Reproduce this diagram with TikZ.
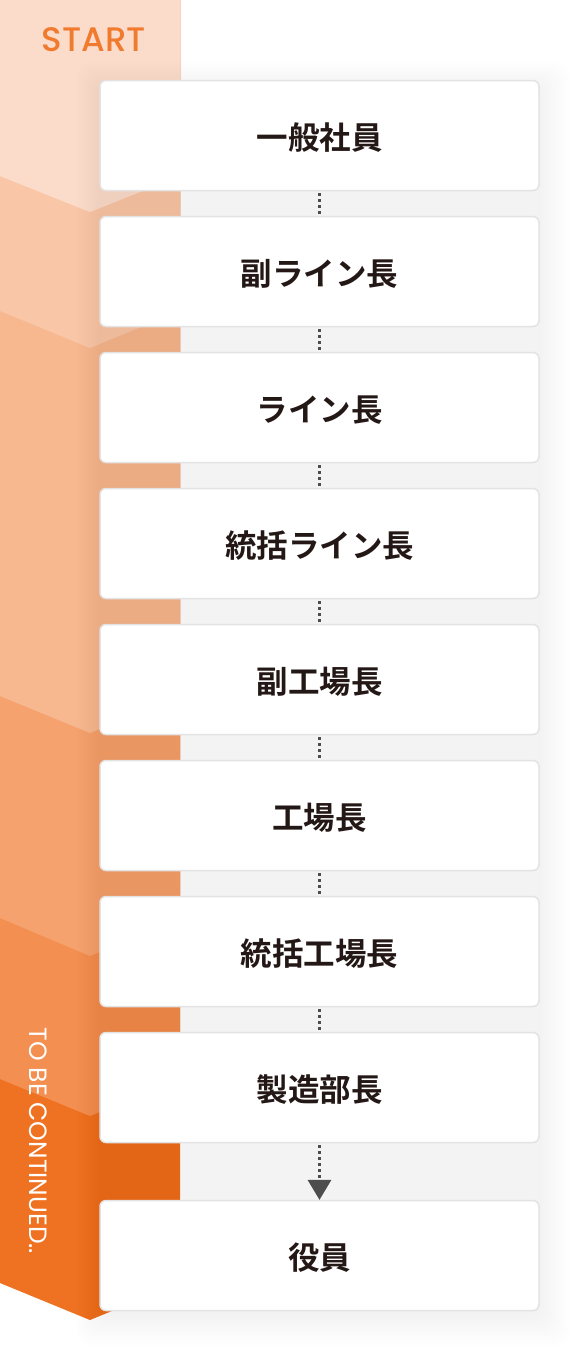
\documentclass[tikz,border=0pt]{standalone}
\usepackage{fontspec}
\newfontfamily\jp{Noto Sans CJK JP Bold}
\newfontfamily\popm{Poppins Medium}
\newfontfamily\popr{Poppins}
\usetikzlibrary{arrows.meta}
\definecolor{segA}{HTML}{FBDCCB}
\definecolor{segB}{HTML}{F9C6A7}
\definecolor{segC}{HTML}{F7B890}
\definecolor{segD}{HTML}{F5A26E}
\definecolor{segE}{HTML}{F38F50}
\definecolor{segF}{HTML}{EF7223}
\definecolor{startc}{HTML}{F07A2E}
\definecolor{txt}{HTML}{231815}
\definecolor{boxline}{HTML}{E3E3E3}
\definecolor{dotc}{HTML}{4D4D4D}
\tikzset{
  stepbox/.style={draw=boxline, line width=1.5pt, fill=white, rounded corners=6pt,
    minimum width=439pt, minimum height=110pt, inner sep=0pt,
    text height=32pt, text depth=4pt,
    font=\jp\fontsize{31.5}{36}\selectfont, text=txt},
  conn/.style={draw=dotc, line width=3pt, dash pattern=on 3pt off 3pt, dash phase=-2pt},
  shadowlayer/.style={fill=black, opacity=0.0042, rounded corners=14pt}
}
\begin{document}
\begin{tikzpicture}[x=1pt,y=-1pt]
\useasboundingbox (0,0) rectangle (580,1352);
\fill[white] (0,0) rectangle (580,1352);
% chevron band, drawn bottom segment first
\fill[segF] (0,0) -- (180,0) -- (180,1283) -- (90,1320) -- (0,1283) -- cycle;
\fill[segE] (0,0) -- (180,0) -- (180,1079) -- (90,1116) -- (0,1079) -- cycle;
\fill[segD] (0,0) -- (180,0) -- (180,918) -- (90,956) -- (0,918) -- cycle;
\fill[segC] (0,0) -- (180,0) -- (180,696) -- (90,733) -- (0,696) -- cycle;
\fill[segB] (0,0) -- (180,0) -- (180,311) -- (90,348) -- (0,311) -- cycle;
\fill[segA] (0,0) -- (180,0) -- (180,176) -- (90,212) -- (0,176) -- cycle;
% soft shadow behind the column of boxes
\foreach \i in {1,...,12}
  \fill[shadowlayer] ({100-2*\i},{80-2*\i+6}) rectangle ({539+2.6*\i},{1311+2.6*\i+4});
% labels on band
\node[text=startc, font=\popm\fontsize{34}{40}\selectfont, inner sep=0pt] (start) at (94,39.5) {START};
\node[text=white, font=\popr\fontsize{25}{28}\selectfont, inner sep=0pt, rotate=-90] (cont) at (38.5,1141) {TO BE CONTINUED..};
% boxes
\node[stepbox] (b1) at (319.5,135.5) {一般社員};
\node[stepbox] (b2) at (319.5,271.5) {副ライン長};
\node[stepbox] (b3) at (319.5,407.5) {ライン長};
\node[stepbox] (b4) at (319.5,543.5) {統括ライン長};
\node[stepbox] (b5) at (319.5,679.5) {副工場長};
\node[stepbox] (b6) at (319.5,815.5) {工場長};
\node[stepbox] (b7) at (319.5,951.5) {統括工場長};
\node[stepbox] (b8) at (319.5,1087.5) {製造部長};
\node[stepbox] (b9) at (319.5,1255.5) {役員};
% connectors
\draw[conn] (b1.south) -- (b2.north);
\draw[conn] (b2.south) -- (b3.north);
\draw[conn] (b3.south) -- (b4.north);
\draw[conn] (b4.south) -- (b5.north);
\draw[conn] (b5.south) -- (b6.north);
\draw[conn] (b6.south) -- (b7.north);
\draw[conn] (b7.south) -- (b8.north);
\draw[conn, -{Triangle[width=24pt,length=20pt,line width=0pt]}] (b8.south) -- (b9.north);
\end{tikzpicture}
\end{document}
